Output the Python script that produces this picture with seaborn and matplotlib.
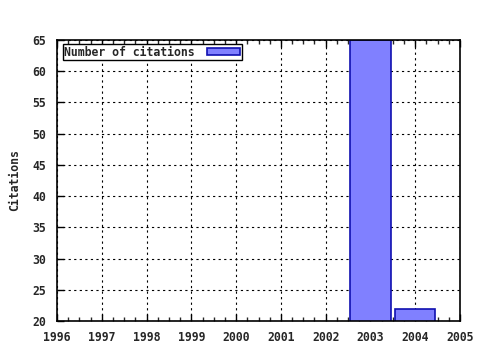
import matplotlib
matplotlib.use("Agg")
import matplotlib.pyplot as plt
import seaborn as sns
import pandas as pd
from matplotlib.patches import Patch
from matplotlib.ticker import MultipleLocator

years = [2003, 2004]
citations = [65, 22]
x_ticks = [1996, 1997, 1998, 1999, 2000, 2001, 2002, 2003, 2004, 2005]
y_ticks = [20, 25, 30, 35, 40, 45, 50, 55, 60, 65]
series_label = "Number of citations"
y_label = "Citations"

sns.set_style("white")
plt.rcParams["font.family"] = ["DejaVu Sans Mono"]
plt.rcParams["font.weight"] = "bold"

df = pd.DataFrame({"year": years, "citations": citations})

fig = plt.figure(figsize=(4.8, 3.5), dpi=100)
ax = fig.add_axes([57/480, 1-321/350, (460-57)/480, (321-40)/350])

fill = "#8080ff"
edge = "#1010b0"
sns.barplot(data=df, x="year", y="citations", native_scale=True, width=0.9,
            color=fill, edgecolor=edge, linewidth=1.2, saturation=1, ax=ax, zorder=3)

ax.set_xlim(1996, 2005)
ax.set_ylim(20, 65)
ax.set_xticks(x_ticks)
ax.set_xticklabels([str(t) for t in x_ticks])
ax.set_yticks(y_ticks)
ax.set_yticklabels([str(t) for t in y_ticks])
ax.xaxis.set_minor_locator(MultipleLocator(0.25))
ax.tick_params(axis="both", which="major", direction="in", length=5, width=1,
               labelsize=8.3, color="black")
ax.tick_params(axis="x", which="major", top=True, bottom=True, pad=7)
ax.tick_params(axis="y", which="major", pad=8)
ax.tick_params(axis="x", which="minor", direction="in", length=3, width=1,
               top=True, bottom=True)
ax.tick_params(axis="y", left=True, right=False)
for lab in ax.get_xticklabels() + ax.get_yticklabels():
    lab.set_fontweight("bold")

ax.grid(True, which="major", color="black", linestyle=(0, (2, 3)), linewidth=0.8, zorder=0)
ax.set_axisbelow(True)
for s in ax.spines.values():
    s.set_visible(True)
    s.set_color("black")
    s.set_linewidth(1.2)
    s.set_zorder(5)

ax.set_xlabel("")
ax.set_ylabel(y_label, fontsize=8.3, fontweight="bold", labelpad=8)

handle = Patch(facecolor=fill, edgecolor=edge, linewidth=1.2)
leg = ax.legend([handle], [series_label], loc="upper left", bbox_to_anchor=(0.014, 0.986),
                markerfirst=False, fancybox=False, framealpha=1, edgecolor="black",
                prop={"family": "DejaVu Sans Mono", "weight": "bold", "size": 8.3},
                handlelength=2.9, handleheight=0.45, borderpad=0.15, handletextpad=1.0,
                borderaxespad=0)
leg.get_frame().set_linewidth(1.0)

fig.savefig("out.png", dpi=100)
